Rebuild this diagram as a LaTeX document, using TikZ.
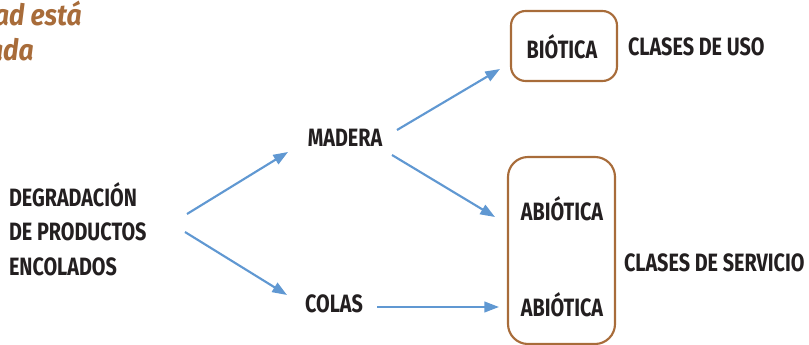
\documentclass[tikz,border=0pt]{standalone}
\usepackage{fontspec}
\usepackage{tikz}
\usetikzlibrary{arrows.meta}
\setmainfont{Fira Sans}[FakeStretch=0.79]
\newfontfamily\titfont{Fira Sans}[FakeStretch=0.9]
\definecolor{ColorBlue}{RGB}{96,152,210}
\definecolor{ColorBrown}{RGB}{168,108,58}
\definecolor{ColorText}{RGB}{35,31,32}
\xdef\LWA{1.6pt}
\xdef\LWB{1.6pt}
\tikzset{
  lbl/.style={font=\fontsize{18.8}{26}\selectfont\bfseries, text=ColorText, inner sep=0, outer sep=0},
  titulo/.style={anchor=base east, inner sep=0, text=ColorBrown, font=\titfont\fontsize{22}{26}\selectfont\bfseries\itshape},
  flecha/.style={line width=\LWA, ColorBlue, -{Triangle[length=11pt,width=8pt]}},
  caja/.style={draw=ColorBrown, line width=\LWB, rounded corners=11pt}
}

\begin{document}
\begin{tikzpicture}[x=0.75pt,y=-0.75pt]
\useasboundingbox (0,0) rectangle (809,345);
\clip (0,0) rectangle (809,345);
\node[titulo] (titA) at (82,26) {ad está};
\node[titulo] (titB) at (34,61) {ada};
\node[lbl, anchor=west, align=left] (degr) at (9,229) {DEGRADACIÓN\\DE PRODUCTOS\\ENCOLADOS};
\node[lbl] (madera) at (345,138) {MADERA};
\node[lbl] (colas) at (334,304) {COLAS};
\draw[caja] (511,11) rectangle (617,81);
\draw[caja, rounded corners=15pt] (508,157) rectangle (615,344);
\node[lbl] (biot) at (562,47) {BIÓTICA};
\node[lbl] (abiA) at (562,209) {ABIÓTICA};
\node[lbl] (abiB) at (562,305) {ABIÓTICA};
\node[lbl, anchor=west] (uso) at (628,47) {CLASES DE USO};
\node[lbl, anchor=west] (serv) at (624,263) {CLASES DE SERVICIO};
% extremos de las flechas
\coordinate (dA) at (187,214);
\coordinate (dB) at (185,232);
\coordinate (mA) at (288,152);
\coordinate (cA) at (287,295);
\coordinate (mB) at (397,130);
\coordinate (mC) at (392,155);
\coordinate (cB) at (377,307);
\coordinate (bio) at (500,69);
\coordinate (abA) at (495,217);
\coordinate (abB) at (499,307);
\draw[flecha] (dA) -- (mA);
\draw[flecha] (dB) -- (cA);
\draw[flecha] (mB) -- (bio);
\draw[flecha] (mC) -- (abA);
\draw[flecha] (cB) -- (abB);
\end{tikzpicture}
\end{document}
